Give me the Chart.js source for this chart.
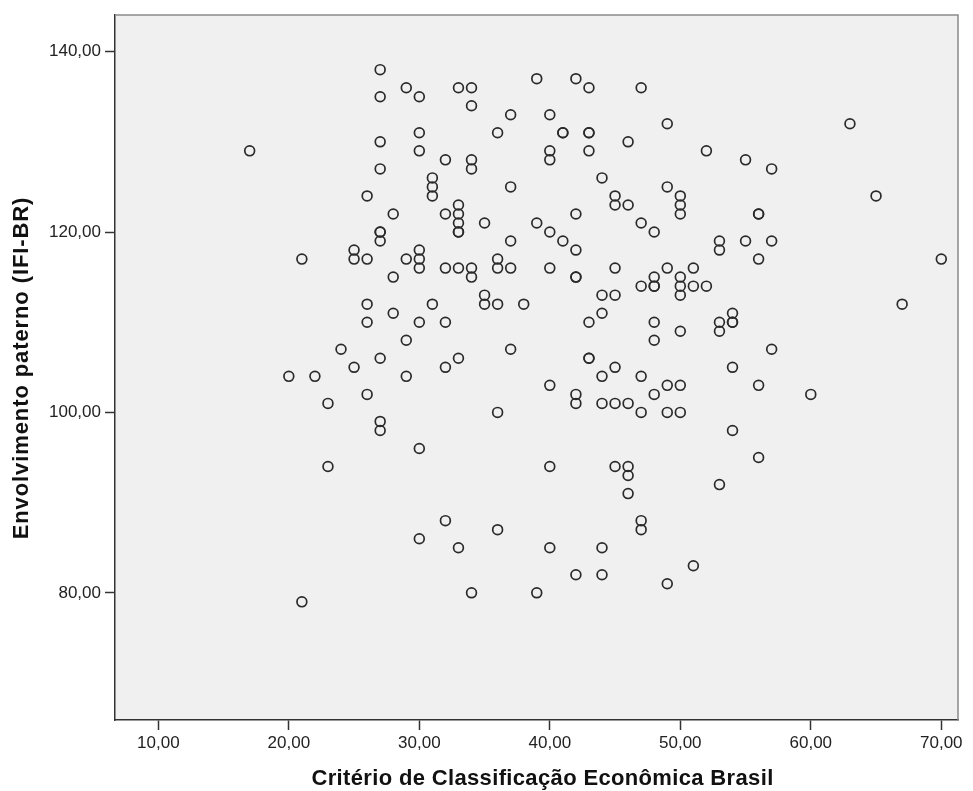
<!DOCTYPE html>
<html>
<head>
<meta charset="utf-8">
<script src="https://cdn.jsdelivr.net/npm/chart.js@4.4.0/dist/chart.umd.min.js"></script>
<style>
html,body{margin:0;padding:0;background:#ffffff;}
#wrap{width:973px;height:791px;}
</style>
</head>
<body>
<div id="wrap"><canvas id="c" width="973" height="791"></canvas></div>
<script>
// ---- data ----
const xAxisTitle = 'Critério de Classificação Econômica Brasil';
const yAxisTitle = 'Envolvimento paterno (IFI-BR)';
const xTickValues = [10, 20, 30, 40, 50, 60, 70];
const yTickValues = [80, 100, 120, 140];
const xTickLabels = ['10,00', '20,00', '30,00', '40,00', '50,00', '60,00', '70,00'];
const yTickLabels = ['80,00', '100,00', '120,00', '140,00'];

const criterioCCEB = [
  17,
  20,
  21, 21,
  22,
  23, 23,
  24,
  25, 25, 25,
  26, 26, 26, 26, 26,
  27, 27, 27, 27, 27, 27, 27, 27, 27, 27,
  28, 28, 28,
  29, 29, 29, 29,
  30, 30, 30, 30, 30, 30, 30, 30, 30,
  31, 31, 31, 31,
  32, 32, 32, 32, 32, 32,
  33, 33, 33, 33, 33, 33, 33, 33, 33,
  34, 34, 34, 34, 34, 34, 34,
  35, 35, 35,
  36, 36, 36, 36, 36, 36,
  37, 37, 37, 37, 37,
  38,
  39, 39, 39,
  40, 40, 40, 40, 40, 40, 40, 40,
  41, 41, 41,
  42, 42, 42, 42, 42, 42, 42, 42,
  43, 43, 43, 43, 43, 43, 43,
  44, 44, 44, 44, 44, 44, 44,
  45, 45, 45, 45, 45, 45, 45,
  46, 46, 46, 46, 46, 46,
  47, 47, 47, 47, 47, 47, 47,
  48, 48, 48, 48, 48, 48, 48,
  49, 49, 49, 49, 49, 49,
  50, 50, 50, 50, 50, 50, 50, 50, 50,
  51, 51, 51,
  52, 52,
  53, 53, 53, 53, 53,
  54, 54, 54, 54, 54,
  55, 55,
  56, 56, 56, 56, 56,
  57, 57, 57,
  60,
  63,
  65,
  67,
  70
];
const envolvimentoPaterno = [
  129,
  104,
  117, 79,
  104,
  101, 94,
  107,
  118, 117, 105,
  124, 117, 112, 110, 102,
  138, 135, 130, 127, 120, 120, 119, 106, 99, 98,
  122, 115, 111,
  136, 117, 108, 104,
  135, 131, 129, 118, 117, 116, 110, 96, 86,
  126, 125, 124, 112,
  128, 122, 116, 110, 105, 88,
  136, 123, 122, 121, 120, 120, 116, 106, 85,
  136, 134, 128, 127, 116, 115, 80,
  121, 113, 112,
  131, 117, 116, 112, 100, 87,
  133, 125, 119, 116, 107,
  112,
  137, 121, 80,
  133, 129, 128, 120, 116, 103, 94, 85,
  131, 131, 119,
  137, 122, 118, 115, 115, 102, 101, 82,
  136, 131, 131, 129, 110, 106, 106,
  126, 113, 111, 104, 101, 85, 82,
  124, 123, 116, 113, 105, 101, 94,
  130, 123, 101, 94, 93, 91,
  136, 121, 114, 104, 100, 88, 87,
  120, 115, 114, 114, 110, 108, 102,
  132, 125, 116, 103, 100, 81,
  124, 123, 122, 115, 114, 113, 109, 103, 100,
  116, 114, 83,
  129, 114,
  119, 118, 110, 109, 92,
  111, 110, 110, 105, 98,
  128, 119,
  122, 122, 117, 103, 95,
  127, 119, 107,
  102,
  132,
  124,
  112,
  117
];

// ---- build ----
const points = criterioCCEB.map((x, i) => ({ x: x, y: envolvimentoPaterno[i] }));
const fontFamily = "'Liberation Sans', Arial, sans-serif";

const plotDecor = {
  id: 'plotDecor',
  beforeDraw(chart) {
    const { ctx, chartArea: a } = chart;
    ctx.save();
    ctx.fillStyle = '#f0f0f0';
    ctx.fillRect(a.left, a.top, a.right - a.left, a.bottom - a.top);
    ctx.restore();
  },
  afterDraw(chart) {
    const { ctx, chartArea: a } = chart;
    ctx.save();
    ctx.strokeStyle = '#8a8a8a';
    ctx.lineWidth = 1.5;
    ctx.beginPath();
    ctx.moveTo(a.left, a.top);
    ctx.lineTo(a.right, a.top);
    ctx.lineTo(a.right, a.bottom);
    ctx.stroke();
    ctx.restore();

    // axis titles
    ctx.save();
    ctx.fillStyle = '#111';
    ctx.font = 'bold 22px ' + fontFamily;
    ctx.textAlign = 'center';
    ctx.textBaseline = 'middle';
    if ('letterSpacing' in ctx) ctx.letterSpacing = '0.35px';
    ctx.fillText(xAxisTitle, 542.5, 779);
    ctx.restore();

    ctx.save();
    ctx.fillStyle = '#111';
    ctx.font = 'bold 22px ' + fontFamily;
    ctx.textAlign = 'center';
    ctx.textBaseline = 'middle';
    if ('letterSpacing' in ctx) ctx.letterSpacing = '0.9px';
    ctx.translate(22, 368);
    ctx.rotate(-Math.PI / 2);
    ctx.fillText(yAxisTitle, 0, 0);
    ctx.restore();
  }
};

const tickFont = { family: fontFamily, size: 17 };

new Chart(document.getElementById('c'), {
  type: 'scatter',
  data: {
    datasets: [{
      data: points,
      pointStyle: 'circle',
      pointRadius: 4.9,
      pointHoverRadius: 4.9,
      borderWidth: 1.7,
      pointBorderColor: '#2a2a2a',
      pointBackgroundColor: 'rgba(0,0,0,0)',
      borderColor: '#2a2a2a',
      backgroundColor: 'rgba(0,0,0,0)',
      showLine: false
    }]
  },
  options: {
    responsive: false,
    animation: false,
    devicePixelRatio: 1,
    layout: { padding: { top: 15, right: 15, left: 0, bottom: 0 } },
    plugins: { legend: { display: false }, tooltip: { enabled: false } },
    events: [],
    scales: {
      x: {
        type: 'linear',
        min: 6.68,
        max: 71.28,
        afterBuildTicks: s => { s.ticks = xTickValues.map(v => ({ value: v })); },
        afterFit: s => { s.height = 71; },
        ticks: {
          callback: (v) => { const i = xTickValues.indexOf(v); return i >= 0 ? xTickLabels[i] : ''; },
          font: tickFont, color: '#222', padding: 3, maxRotation: 0, autoSkip: false
        },
        grid: { drawOnChartArea: false, drawTicks: true, tickLength: 10, tickColor: '#333', tickWidth: 1.5 },
        border: { display: true, color: '#333', width: 1.5 },
        title: { display: false }
      },
      y: {
        type: 'linear',
        min: 65.9,
        max: 144.06,
        afterBuildTicks: s => { s.ticks = yTickValues.map(v => ({ value: v })); },
        afterFit: s => { s.width = 115; },
        ticks: {
          callback: (v) => { const i = yTickValues.indexOf(v); return i >= 0 ? yTickLabels[i] : ''; },
          font: tickFont, color: '#222', padding: 4, autoSkip: false
        },
        grid: { drawOnChartArea: false, drawTicks: true, tickLength: 10, tickColor: '#333', tickWidth: 1.5 },
        border: { display: true, color: '#333', width: 1.5 },
        title: { display: false }
      }
    }
  },
  plugins: [plotDecor]
});
</script>
</body>
</html>
